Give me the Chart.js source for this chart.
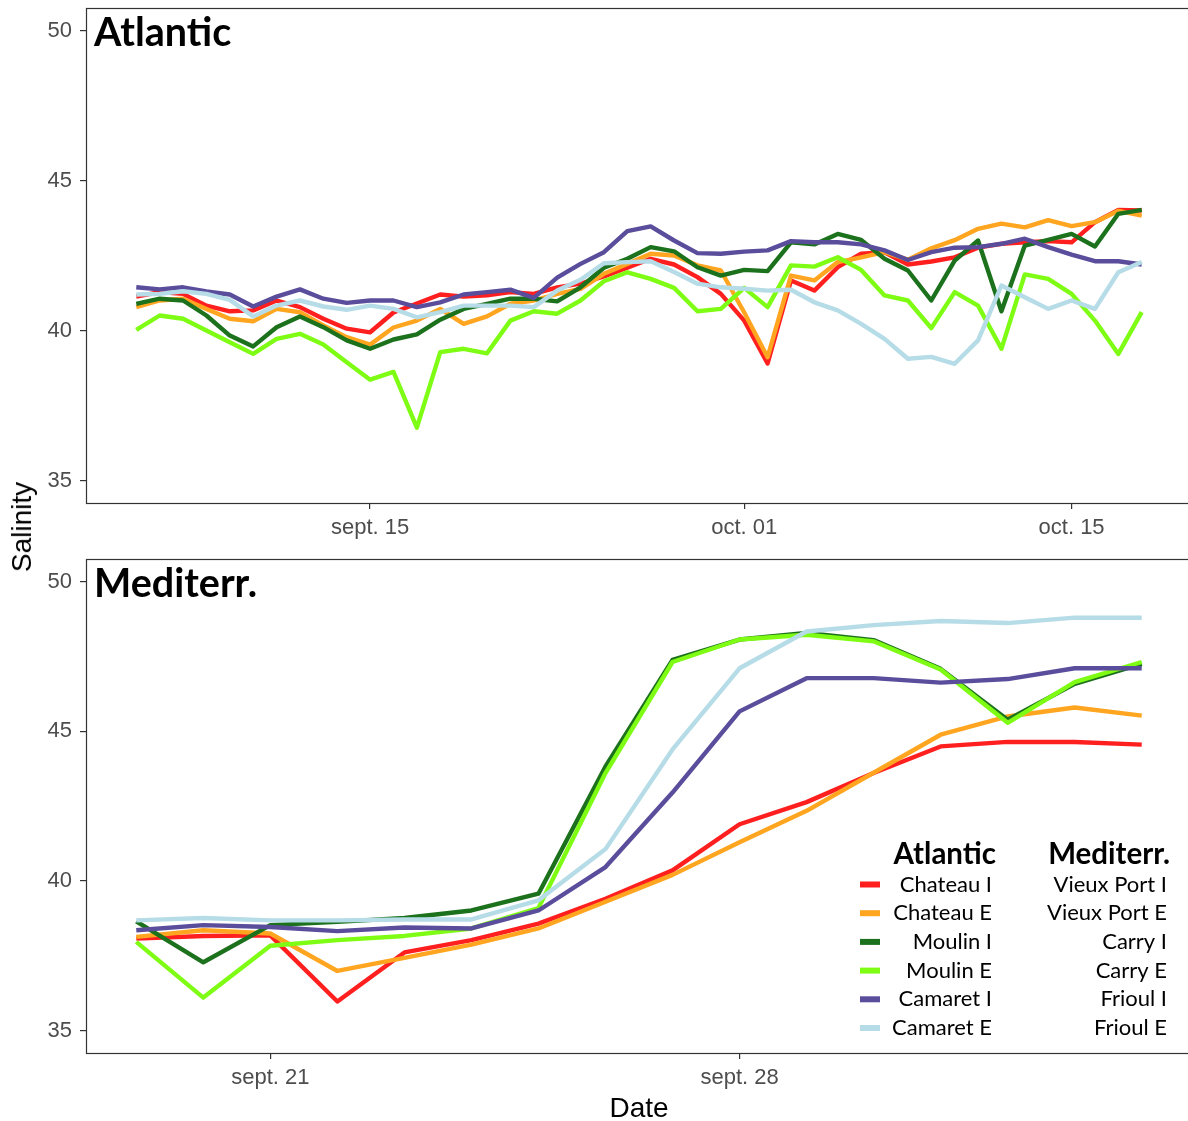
<!DOCTYPE html>
<html><head><meta charset="utf-8">
<script src="https://cdn.jsdelivr.net/npm/chart.js@4.4.1/dist/chart.umd.min.js"></script>
<style>
html,body{margin:0;padding:0;background:#fff;width:1188px;height:1121px;overflow:hidden;position:relative;}
#c1{position:absolute;left:0;top:0;}
#c2{position:absolute;left:0;top:545px;}
#ylab{position:absolute;left:22px;top:527px;transform:translate(-50%,-50%) rotate(-90deg);font:28px "Liberation Sans",Arial,sans-serif;color:#000;white-space:nowrap;line-height:1;}
</style></head><body>
<canvas id="c1" width="1194" height="545"></canvas>
<canvas id="c2" width="1194" height="576"></canvas>
<div id="ylab">Salinity</div>
<script>
// ---------- categories ----------
const atlDates = ["09-05","09-06","09-07","09-08","09-09","09-10","09-11","09-12","09-13","09-14",
  "09-15","09-16","09-17","09-18","09-19","09-20","09-21","09-22","09-23","09-24",
  "09-25","09-26","09-27","09-28","09-29","09-30","10-01","10-02","10-03","10-04",
  "10-05","10-06","10-07","10-08","10-09","10-10","10-11","10-12","10-13","10-14",
  "10-15","10-16","10-17","10-18"];
const medDates = ["09-19","09-20","09-21","09-22","09-23","09-24","09-25","09-26",
  "09-27","09-28","09-29","09-30","10-01","10-02","10-03","10-04"];

const atlNames = ["Chateau I","Chateau E","Moulin I","Moulin E","Camaret I","Camaret E"];
const medNames = ["Vieux Port I","Vieux Port E","Carry I","Carry E","Frioul I","Frioul E"];
const panelTitles = ["Atlantic","Mediterr."];

// ---------- tick labels ----------
const atlTickDates = ["09-15","10-01","10-15"];
const atlTickLabels = ["sept. 15","oct. 01","oct. 15"];
const medTickDates = ["09-21","09-28"];
const medTickLabels = ["sept. 21","sept. 28"];
const yTicks = [35,40,45,50];
const yTitle = "Salinity";
const xTitle = "Date";

// ---------- Atlantic series ----------
const atlChateauI = [41.13,41.28,41.22,40.83,40.64,40.67,41.0,40.78,40.39,40.06,39.94,40.6,40.9,41.2,41.13,41.17,41.28,41.22,41.44,41.56,41.8,42.09,42.39,42.2,41.78,41.22,40.33,38.9,41.67,41.33,42.11,42.56,42.61,42.2,42.3,42.44,42.76,42.89,42.94,42.98,42.94,43.61,44.02,44.0];
const atlChateauE = [40.78,41.0,41.06,40.72,40.39,40.31,40.72,40.61,40.17,39.78,39.53,40.1,40.33,40.72,40.22,40.47,40.89,41.0,41.22,41.39,41.89,42.22,42.56,42.5,42.17,42.0,40.6,39.11,41.83,41.67,42.28,42.44,42.61,42.36,42.74,43.01,43.39,43.56,43.44,43.68,43.48,43.61,43.99,43.83];
const atlMoulinI = [40.89,41.06,41.0,40.5,39.83,39.47,40.11,40.47,40.11,39.67,39.39,39.7,39.87,40.36,40.72,40.89,41.06,41.06,40.97,41.44,42.09,42.39,42.78,42.64,42.11,41.83,42.02,41.98,42.94,42.87,43.22,43.02,42.39,42.0,41.0,42.33,43.0,40.64,42.83,43.02,43.22,42.8,43.89,44.02];
const atlMoulinE = [40.02,40.5,40.39,40.0,39.61,39.22,39.72,39.89,39.53,38.94,38.36,38.62,36.76,39.28,39.39,39.24,40.33,40.64,40.56,41.0,41.64,41.94,41.72,41.42,40.64,40.72,41.42,40.78,42.17,42.13,42.44,42.02,41.17,41.0,40.08,41.28,40.83,39.39,41.87,41.72,41.22,40.33,39.22,40.61];
const atlCamaretI = [41.44,41.37,41.44,41.3,41.2,40.8,41.13,41.37,41.06,40.92,41.0,41.0,40.78,40.94,41.2,41.28,41.36,41.09,41.76,42.22,42.61,43.31,43.47,43.0,42.58,42.56,42.63,42.67,42.98,42.94,42.94,42.87,42.67,42.35,42.61,42.76,42.78,42.89,43.06,42.78,42.53,42.31,42.31,42.2];
const atlCamaretE = [41.2,41.22,41.31,41.22,41.02,40.47,40.83,41.0,40.8,40.69,40.83,40.72,40.44,40.61,40.83,40.83,40.83,40.78,41.33,41.69,42.24,42.28,42.31,41.95,41.56,41.44,41.39,41.33,41.36,40.94,40.67,40.22,39.72,39.06,39.12,38.89,39.67,41.5,41.11,40.72,41.0,40.72,41.94,42.28];

// ---------- Mediterranean series ----------
const medVieuxPortI = [38.07,38.16,38.18,35.97,37.61,38.02,38.57,39.4,40.35,41.89,42.63,43.6,44.49,44.64,44.64,44.55];
const medVieuxPortE = [38.13,38.35,38.24,36.99,37.43,37.87,38.41,39.3,40.2,41.29,42.34,43.61,44.88,45.49,45.79,45.52];
const medCarryI = [38.65,37.28,38.52,38.63,38.76,39.01,39.57,43.82,47.38,48.06,48.28,48.04,47.08,45.38,46.58,47.25];
const medCarryE = [37.96,36.1,37.83,38.02,38.16,38.41,39.09,43.6,47.31,48.06,48.22,48.0,47.06,45.28,46.64,47.31];
const medFrioulI = [38.35,38.52,38.46,38.32,38.44,38.41,39.01,40.46,42.95,45.66,46.77,46.77,46.62,46.74,47.1,47.1];
const medFrioulE = [38.68,38.76,38.68,38.68,38.71,38.71,39.35,41.06,44.39,47.1,48.33,48.54,48.68,48.61,48.79,48.79];

// ---------- styles ----------
const seriesColors = ["#FF1F1F","#FFA51F","#1C721C","#7FFC14","#5A4D9C","#B5DCE7"];
const FONT = '"Liberation Sans", Arial, sans-serif';
const LFONT = 'Lato, "Open Sans", sans-serif';
const AXIS_COL = "#333333";
const TICK_COL = "#4D4D4D";

function dayNum(s){ const p = s.split("-").map(Number); return p[0] === 9 ? p[1] : 30 + p[1]; }

const framePlugin = {
  id: "frame",
  afterDraw(chart){
    const a = chart.chartArea, ctx = chart.ctx;
    ctx.save();
    ctx.strokeStyle = AXIS_COL; ctx.lineWidth = 1.2;
    ctx.strokeRect(a.left + 0.5, a.top + 0.5, a.right - a.left - 1, a.bottom - a.top);
    ctx.fillStyle = "#000";
    ctx.font = "bold 39.5px " + LFONT;
    ctx.textBaseline = "alphabetic"; ctx.textAlign = "left";
    ctx.fillText(chart.options.panelTitle, a.left + 8, a.top + 38);
    ctx.restore();
  }
};

const legendPlugin = {
  id: "twoColLegend",
  afterDraw(chart){
    const a = chart.chartArea, ctx = chart.ctx;
    const rightCol = a.right - 25, leftCol = a.right - 200;
    const swX0 = a.right - 332, swX1 = a.right - 312;
    const rowStep = 28.7, lastRow = a.bottom - 25;
    ctx.save();
    ctx.fillStyle = "#000";
    ctx.textAlign = "right"; ctx.textBaseline = "middle";
    ctx.font = "bold 29.5px " + LFONT;
    ctx.fillText(panelTitles[0], leftCol + 4, a.bottom - 199);
    ctx.fillText(panelTitles[1], rightCol + 3, a.bottom - 199);
    ctx.font = "22px " + LFONT;
    for (let k = 0; k < atlNames.length; k++){
      const y = lastRow - (atlNames.length - 1 - k) * rowStep;
      ctx.strokeStyle = seriesColors[k]; ctx.lineWidth = 6; ctx.lineCap = "butt";
      ctx.beginPath(); ctx.moveTo(swX0, y); ctx.lineTo(swX1, y); ctx.stroke();
      ctx.fillText(atlNames[k], leftCol, y);
      ctx.fillText(medNames[k], rightCol, y);
    }
    ctx.restore();
  }
};

function makeChart(canvas, dates, series, names, tickDates, tickLabels, title, padTop, xh, showXTitle, extraPlugins){
  const xs = dates.map(dayNum);
  const x0 = xs[0], x1 = xs[xs.length - 1], ex = 0.05 * (x1 - x0);
  const y0 = yTicks[0], y1 = yTicks[yTicks.length - 1], ey = 0.05 * (y1 - y0);
  const tickPos = tickDates.map(dayNum);
  return new Chart(canvas, {
    type: "line",
    data: {
      datasets: series.map((vals, k) => ({
        label: names[k],
        data: vals.map((v, i) => ({x: xs[i], y: v})),
        borderColor: seriesColors[k], backgroundColor: seriesColors[k],
        borderWidth: 4.4, pointRadius: 0, pointHoverRadius: 0, tension: 0, fill: false,
        borderJoinStyle: "round", borderCapStyle: "butt",
        order: series.length - k
      }))
    },
    options: {
      responsive: false, animation: false, devicePixelRatio: 1,
      panelTitle: title,
      layout: {padding: {top: padTop, right: 2, left: 0, bottom: 0}},
      plugins: {legend: {display: false}, tooltip: {enabled: false}},
      events: [],
      scales: {
        x: {
          type: "linear", min: x0 - ex, max: x1 + ex,
          afterBuildTicks: s => { s.ticks = tickPos.map(v => ({value: v})); },
          ticks: {callback: (v, i) => tickLabels[i], color: TICK_COL, font: {family: FONT, size: 22}, padding: 6, maxRotation: 0, autoSkip: false},
          grid: {display: true, drawOnChartArea: false, drawTicks: true, tickLength: 6, color: AXIS_COL, lineWidth: 1.2},
          border: {display: false},
          title: {display: showXTitle, text: xTitle, color: "#000", font: {family: FONT, size: 28, lineHeight: 0.85}, padding: {top: 0, bottom: 0}},
          afterFit: s => { s.height = xh; s.paddingLeft = 0; s.paddingRight = 0; }
        },
        y: {
          type: "linear", min: y0 - ey, max: y1 + ey,
          afterBuildTicks: s => { s.ticks = yTicks.map(v => ({value: v})); },
          ticks: {callback: v => String(v), color: TICK_COL, font: {family: FONT, size: 22}, padding: 8},
          grid: {display: true, drawOnChartArea: false, drawTicks: true, tickLength: 6, color: AXIS_COL, lineWidth: 1.2},
          border: {display: false},
          afterFit: s => { s.width = 86; s.paddingTop = 0; s.paddingBottom = 0; }
        }
      }
    },
    plugins: [framePlugin].concat(extraPlugins)
  });
}

makeChart(document.getElementById("c1"), atlDates,
  [atlChateauI, atlChateauE, atlMoulinI, atlMoulinE, atlCamaretI, atlCamaretE],
  atlNames, atlTickDates, atlTickLabels, panelTitles[0], 8, 42, false, []);
makeChart(document.getElementById("c2"), medDates,
  [medVieuxPortI, medVieuxPortE, medCarryI, medCarryE, medFrioulI, medFrioulE],
  medNames, medTickDates, medTickLabels, panelTitles[1], 14, 68, true, [legendPlugin]);
document.getElementById("ylab").textContent = yTitle;
</script></body></html>
